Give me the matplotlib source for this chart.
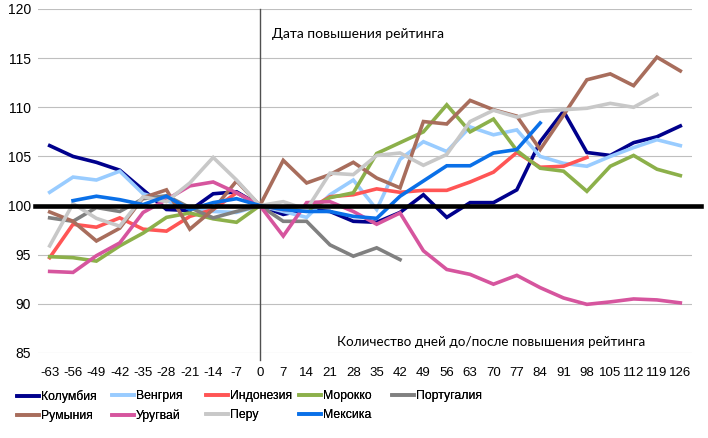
import matplotlib.pyplot as plt
import numpy as np

nan = np.nan

days = list(range(-63, 127, 7))

colombia = [106.1, 105.0, 104.4, 103.6, 101.6, 99.6, 99.5, 101.2, 101.4, 100.0,
            99.1, 99.6, 99.4, 98.4, 98.3, 99.3, 101.1, 98.8, 100.3, 100.3,
            101.6, 106.5, 109.6, 105.4, 105.1, 106.4, 107.0, 108.1]
hungary = [101.35, 102.9, 102.6, 103.5, 101.2, 100.5, 99.7, 99.4, 99.3, 100.0,
           99.4, 98.8, 101.1, 102.6, 99.6, 104.7, 106.5, 105.5, 108.0, 107.2,
           107.7, 105.0, 104.3, 104.0, 105.0, 105.9, 106.7, 106.1]
indonesia = [94.7, 98.1, 97.8, 98.75, 97.6, 97.4, 98.9, 99.6, 101.3, 100.0,
             99.6, 99.5, 100.9, 101.1, 101.7, 101.35, 101.55, 101.55, 102.4, 103.4,
             105.4, 103.9, 104.0, 104.9, nan, nan, nan, nan]
morocco = [94.8, 94.7, 94.35, 95.9, 97.2, 98.8, 99.25, 98.65, 98.3, 100.0,
           99.7, 99.5, 100.8, 101.3, 105.3, 106.4, 107.5, 110.25, 107.5, 108.8,
           105.6, 103.8, 103.5, 101.45, 104.0, 105.1, 103.7, 103.05]
portugal = [98.75, 98.4, 99.8, 99.4, 100.7, 101.0, 99.8, 98.75, 99.4, 100.0,
            98.4, 98.4, 96.0, 94.85, 95.7, 94.5, nan, nan, nan, nan,
            nan, nan, nan, nan, nan, nan, nan, nan]
romania = [99.35, 98.4, 96.4, 97.7, 100.8, 101.6, 97.6, 99.6, 102.5, 100.0,
           104.6, 102.3, 103.15, 104.4, 102.8, 101.8, 108.55, 108.3, 110.7, 109.75,
           109.1, 105.7, 109.2, 112.8, 113.4, 112.2, 115.1, 113.7]
uruguay = [93.3, 93.2, 94.9, 96.2, 99.3, 100.6, 102.0, 102.4, 101.3, 100.0,
           96.9, 100.3, 100.4, 99.4, 98.1, 99.25, 95.4, 93.5, 93.0, 92.0,
           92.9, 91.65, 90.6, 89.95, 90.2, 90.5, 90.4, 90.1]
peru = [95.9, 100.2, 98.7, 97.9, 100.9, 100.4, 102.3, 104.9, 102.6, 100.0,
        100.4, 99.6, 103.3, 103.15, 105.1, 105.35, 104.1, 105.2, 108.55, 109.7,
        109.0, 109.6, 109.75, 109.9, 110.4, 110.0, 111.3, nan]
mexico = [nan, 100.5, 100.95, 100.6, 100.1, 100.95, 99.6, 100.3, 100.7, 100.0,
          99.6, 99.4, 99.4, 98.9, 98.7, 100.95, 102.5, 104.05, 104.05, 105.35,
          105.7, 108.4, nan, nan, nan, nan, nan, nan]

names = ['Колумбия', 'Венгрия', 'Индонезия', 'Морокко', 'Португалия',
         'Румыния', 'Уругвай', 'Перу', 'Мексика']
series = [colombia, hungary, indonesia, morocco, portugal,
          romania, uruguay, peru, mexico]
colors = ['#00008C', '#99CCFF', '#FF5555', '#8CB04A', '#808080',
          '#A86D5C', '#D6559E', '#C8C8C8', '#0A70E8']

tick_font = ['Liberation Sans', 'DejaVu Sans']
note_font = ['Lato', 'DejaVu Sans']

fig = plt.figure(figsize=(7.08, 4.38), dpi=100)
ax = fig.add_axes([38 / 708, 1 - 353 / 438, 654 / 708, 344 / 438])

x = np.arange(len(days))
lines = []
for name, vals, c in zip(names, series, colors):
    ln, = ax.plot(x, vals, color=c, lw=2.6, label=name, zorder=2,
                  solid_joinstyle='miter')
    lines.append(ln)

ax.set_xlim(-0.5, len(days) - 0.5)
ax.set_ylim(85, 120)
ax.set_yticks(np.arange(85, 121, 5))
for v in [85, 90, 95, 105, 110, 115, 120]:
    ax.axhline(v, color='#BFBFBF', lw=0.8, zorder=0)
ax.axhline(100, xmin=-0.005, xmax=1.014, color='black', lw=3.3,
           zorder=3, clip_on=False)
ax.axvline(days.index(0), ymin=-0.02, ymax=1, color='#505050', lw=1.0,
           zorder=1, clip_on=False)

ax.set_xticks(x)
ax.set_xticklabels([str(d) for d in days], family=tick_font, fontsize=9.5)
ax.set_yticklabels([str(v) for v in range(85, 121, 5)], family=tick_font,
                   fontsize=10)
ax.tick_params(length=0)
ax.tick_params(axis='x', pad=10)
ax.tick_params(axis='y', pad=5)
for s in ax.spines.values():
    s.set_visible(False)

ax.text(9.5, 117.5, 'Дата повышения рейтинга', family=note_font,
        fontsize=10, va='center', ha='left')
ax.text(12.3, 86.1, 'Количество дней до/после повышения рейтинга',
        family=note_font, fontsize=9.7, va='center', ha='left')

# legend: 5 fixed-width columns, filled row by row
col_x = [17, 112, 206, 299, 392]
for col in range(5):
    idx = [i for i in (col, col + 5) if i < len(names)]
    leg = fig.legend([lines[i] for i in idx], [names[i] for i in idx],
                     loc='upper left',
                     bbox_to_anchor=(col_x[col] / 708, 1 - 390 / 438),
                     frameon=False, prop={'family': tick_font, 'size': 8.8},
                     handlelength=1.8, handletextpad=0.15,
                     labelspacing=0.6, borderpad=0, borderaxespad=0)
    fig.add_artist(leg)

fig.savefig('out.png', dpi=100)
